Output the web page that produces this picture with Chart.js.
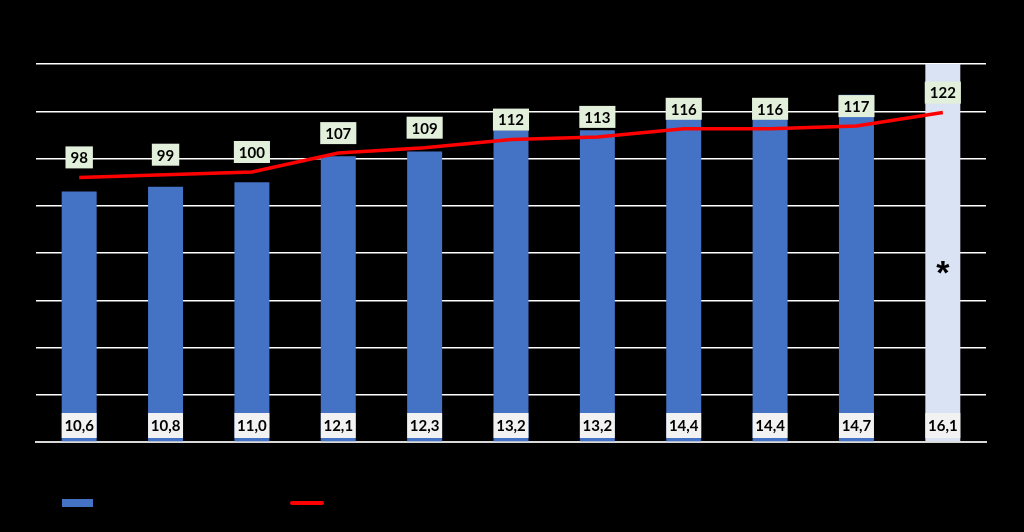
<!DOCTYPE html>
<html>
<head>
<meta charset="utf-8">
<script src="https://cdn.jsdelivr.net/npm/chart.js@4"></script>
<style>
  html, body { margin: 0; padding: 0; background: #000; }
  #wrap { width: 1024px; height: 532px; }
</style>
</head>
<body>
<div id="wrap"><canvas id="chart" width="1024" height="532"></canvas></div>
<script>
const categories = ["2013", "2014", "2015", "2016", "2017", "2018", "2019", "2020", "2021", "2022", "2023"];
const barValues = [10.6, 10.8, 11.0, 12.1, 12.3, 13.2, 13.2, 14.4, 14.4, 14.7, 16.1];
const lineValues = [98, 99, 100, 107, 109, 112, 113, 116, 116, 117, 122];
const barLabel = "Bars";
const lineLabel = "Line";

const fmt = v => v.toFixed(1).replace(".", ",");

// value boxes for bars (bottom) and line points (above)
const labelBoxes = {
    id: "labelBoxes",
    afterDatasetsDraw(chart) {
        const ctx = chart.ctx;
        const bottom = chart.chartArea.bottom;
        const lineMeta = chart.getDatasetMeta(0);
        const barMeta = chart.getDatasetMeta(1);
        ctx.save();
        ctx.font = "bold 15px Lato, 'Liberation Sans', sans-serif";
        ctx.textAlign = "center";
        ctx.textBaseline = "middle";

        barMeta.data.forEach((bar, i) => {
            const w = bar.width;
            const cy = bottom - 17;
            ctx.fillStyle = "#f2f2f2";
            ctx.fillRect(bar.x - w / 2, cy - 12, w, 25);
            ctx.fillStyle = "#000";
            ctx.fillText(fmt(barValues[i]), bar.x, cy + 1);
        });

        // asterisk on the last bar
        const last = barMeta.data[barValues.length - 1];
        ctx.font = "bold 34px 'Liberation Sans', sans-serif";
        ctx.fillText("*", last.x, 275);

        ctx.font = "bold 15px Lato, 'Liberation Sans', sans-serif";
        lineMeta.data.forEach((pt, i) => {
            const txt = String(lineValues[i]);
            const w = ctx.measureText(txt).width + 10;
            const cy = pt.y - 20;
            ctx.fillStyle = "#e2efda";
            ctx.fillRect(pt.x - w / 2, cy - 11, w, 22);
            ctx.fillStyle = "#000";
            ctx.fillText(txt, pt.x, cy + 1);
        });

        // legend markers (text is black on black as in the source)
        ctx.fillStyle = "#4472c4";
        ctx.fillRect(62, 499, 31, 8);
        ctx.strokeStyle = "#ff0000";
        ctx.lineWidth = 4;
        ctx.lineCap = "round";
        ctx.beginPath();
        ctx.moveTo(292, 503);
        ctx.lineTo(322, 503);
        ctx.stroke();
        ctx.fillStyle = "#000";
        ctx.textAlign = "left";
        ctx.font = "15px Lato, sans-serif";
        ctx.fillText(barLabel, 100, 503);
        ctx.fillText(lineLabel, 330, 503);
        ctx.restore();
    }
};

new Chart(document.getElementById("chart"), {
    data: {
        labels: categories,
        datasets: [
            {
                type: "line",
                label: lineLabel,
                data: lineValues,
                yAxisID: "y2",
                borderColor: "#ff0000",
                borderWidth: 3.5,
                pointRadius: 0,
                tension: 0,
                order: 0
            },
            {
                type: "bar",
                label: barLabel,
                data: barValues,
                yAxisID: "y",
                backgroundColor: barValues.map((v, i) => i === barValues.length - 1 ? "#dae3f3" : "#4472c4"),
                barPercentage: 0.405,
                categoryPercentage: 1,
                order: 1
            }
        ]
    },
    options: {
        responsive: false,
        animation: false,
        layout: { padding: { left: 36, right: 38, top: 64, bottom: 90 } },
        plugins: { legend: { display: false }, tooltip: { enabled: false } },
        scales: {
            x: {
                ticks: { display: false },
                grid: { display: false, drawTicks: false },
                border: { display: true, color: "#d9d9d9", width: 2 }
            },
            y: {
                min: 0,
                max: 16,
                ticks: { display: false, stepSize: 2 },
                grid: { color: "#ffffff", lineWidth: 1.5, drawTicks: false },
                border: { display: false }
            },
            y2: {
                position: "right",
                min: 0,
                max: 140,
                display: false
            }
        }
    },
    plugins: [labelBoxes]
});
</script>
</body>
</html>
